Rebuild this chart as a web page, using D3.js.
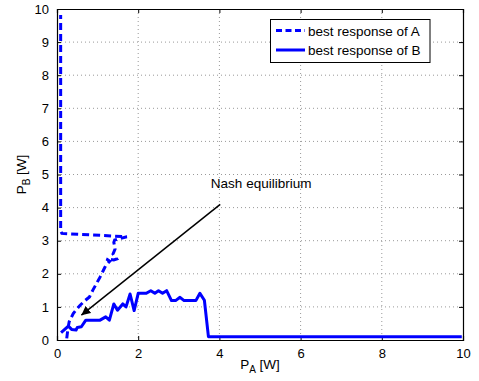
<!DOCTYPE html>
<html>
<head>
<meta charset="utf-8">
<title>Best response</title>
<style>
  body { margin: 0; background: #fff; }
  text { font-family: "Liberation Sans", Arial, Helvetica, sans-serif; fill: #000; }
</style>
</head>
<body>
<div id="graph"></div>
<script src="https://cdn.jsdelivr.net/npm/d3@7"></script>
<script>
  // best response of A (dashed), P_A vs P_B
  const brA_x = [0.24, 0.27, 0.30, 0.40, 0.50, 0.57, 0.70, 0.80, 0.88, 0.97, 1.06, 1.14, 1.20, 1.30, 1.22, 1.40, 1.47, 1.38, 1.43, 1.40, 1.42, 1.72, 0.12, 0.09, 0.09];
  const brA_y = [0.05, 0.35, 0.55, 0.80, 0.95, 1.05, 1.20, 1.30, 1.50, 1.70, 1.90, 2.10, 2.25, 2.38, 2.45, 2.42, 2.45, 2.60, 2.75, 2.95, 3.02, 3.12, 3.22, 3.30, 9.82];

  // best response of B (solid)
  const brB_x = [0.10, 0.28, 0.36, 0.47, 0.50, 0.60, 0.71, 1.06, 1.20, 1.29, 1.40, 1.49, 1.62, 1.70, 1.80, 1.90, 2.00, 2.20, 2.31, 2.41, 2.50, 2.60, 2.70, 2.82, 2.92, 3.03, 3.13, 3.42, 3.52, 3.63, 3.73, 9.97];
  const brB_y = [0.22, 0.42, 0.32, 0.30, 0.38, 0.40, 0.60, 0.60, 0.70, 0.60, 1.09, 0.90, 1.09, 1.00, 1.39, 0.89, 1.41, 1.41, 1.49, 1.41, 1.49, 1.41, 1.49, 1.19, 1.19, 1.29, 1.19, 1.19, 1.41, 1.20, 0.10, 0.10];

  const xTicks = [0, 2, 4, 6, 8, 10];
  const yTicks = [0, 1, 2, 3, 4, 5, 6, 7, 8, 9, 10];

  // annotation arrow: from label to equilibrium point
  const arrowFrom = [4.02, 4.1];
  const arrowTo = [0.6, 0.75];
  const legendLabels = ["best response of A", "best response of B"];

  const W = 479, H = 381;
  const margin = { top: 9, right: 16, bottom: 41, left: 57 };
  const width = W - margin.left - margin.right,
    height = H - margin.top - margin.bottom;

  const root = d3.select("#graph").append("svg")
    .attr("width", W).attr("height", H);
  const svg = root.append("g")
    .attr("transform", `translate(${margin.left},${margin.top})`);

  const x = d3.scaleLinear().domain([0, 10]).range([0, width]);
  const y = d3.scaleLinear().domain([0, 10]).range([height, 0]);

  // dotted grid
  svg.append("g").selectAll("line").data(xTicks.slice(1, -1)).enter().append("line")
    .attr("x1", d => x(d)).attr("x2", d => x(d)).attr("y1", 0).attr("y2", height)
    .attr("stroke", "#999").attr("stroke-dasharray", "1,3");
  svg.append("g").selectAll("line").data(yTicks.slice(1, -1)).enter().append("line")
    .attr("y1", d => y(d)).attr("y2", d => y(d)).attr("x1", 0).attr("x2", width)
    .attr("stroke", "#999").attr("stroke-dasharray", "1,3");

  // axes (ticks pointing inward, matlab style)
  const xAx = svg.append("g").attr("transform", `translate(0,${height})`)
    .call(d3.axisBottom(x).tickValues(xTicks).tickSize(-4).tickPadding(9));
  const xTop = svg.append("g")
    .call(d3.axisTop(x).tickValues(xTicks).tickSize(-4).tickFormat(""));
  const yAx = svg.append("g")
    .call(d3.axisLeft(y).tickValues(yTicks).tickSize(-4).tickPadding(8));
  const yRight = svg.append("g").attr("transform", `translate(${width},0)`)
    .call(d3.axisRight(y).tickValues(yTicks).tickSize(-4).tickFormat(""));
  [xAx, xTop, yAx, yRight].forEach(g => {
    g.select(".domain").attr("stroke", "#000").attr("stroke-width", 1.2);
    g.selectAll(".tick line").attr("stroke", "#000");
    g.selectAll("text").attr("font-size", 13).attr("fill", "#000")
      .attr("font-family", "'Liberation Sans', Arial, sans-serif");
  });

  const line = d3.line().x(d => x(d[0])).y(d => y(d[1]));

  svg.append("path")
    .datum(brA_x.map((v, i) => [v, brA_y[i]]))
    .attr("d", line)
    .attr("fill", "none").attr("stroke", "#0000ff").attr("stroke-width", 3)
    .attr("stroke-dasharray", "7,4");

  svg.append("path")
    .datum(brB_x.map((v, i) => [v, brB_y[i]]))
    .attr("d", line)
    .attr("fill", "none").attr("stroke", "#0000ff").attr("stroke-width", 3)
    .attr("stroke-linejoin", "round");

  // arrow
  root.append("defs").append("marker")
    .attr("id", "head").attr("viewBox", "0 0 10 10")
    .attr("refX", 10).attr("refY", 5)
    .attr("markerWidth", 9).attr("markerHeight", 9)
    .attr("markerUnits", "userSpaceOnUse")
    .attr("orient", "auto")
    .append("path").attr("d", "M0,0 L10,5 L0,10 z").attr("fill", "#000");

  svg.append("line")
    .attr("x1", x(arrowFrom[0])).attr("y1", y(arrowFrom[1]))
    .attr("x2", x(arrowTo[0])).attr("y2", y(arrowTo[1]))
    .attr("stroke", "#000").attr("stroke-width", 1.5)
    .attr("marker-end", "url(#head)");

  svg.append("text")
    .attr("x", x(3.79)).attr("y", y(4.6))
    .attr("font-size", 13.5)
    .text("Nash equilibrium");

  // legend
  const lg = root.append("g");
  lg.append("rect")
    .attr("x", 270.5).attr("y", 19.5).attr("width", 159.5).attr("height", 43)
    .attr("fill", "#fff").attr("stroke", "#000").attr("stroke-width", 1);
  legendLabels.forEach((lab, i) => {
    const yy = 30.5 + i * 19.5;
    lg.append("line")
      .attr("x1", 276).attr("x2", 305).attr("y1", yy).attr("y2", yy)
      .attr("stroke", "#0000ff").attr("stroke-width", 3)
      .attr("stroke-dasharray", i === 0 ? "6,3.5" : null);
    lg.append("text")
      .attr("x", 308).attr("y", yy + 5)
      .attr("font-size", 13.5)
      .text(lab);
  });

  // axis labels
  const xl = root.append("text")
    .attr("x", margin.left + width / 2).attr("y", 369)
    .attr("text-anchor", "middle").attr("font-size", 13.5);
  xl.append("tspan").text("P");
  xl.append("tspan").attr("font-size", 10).attr("dy", 4).text("A");
  xl.append("tspan").attr("dy", -4).text(" [W]");

  const yl = root.append("text")
    .attr("transform", `translate(26,${margin.top + height / 2}) rotate(-90)`)
    .attr("text-anchor", "middle").attr("font-size", 13.5);
  yl.append("tspan").text("P");
  yl.append("tspan").attr("font-size", 10).attr("dy", 4).text("B");
  yl.append("tspan").attr("dy", -4).text(" [W]");
</script>
</body>
</html>
